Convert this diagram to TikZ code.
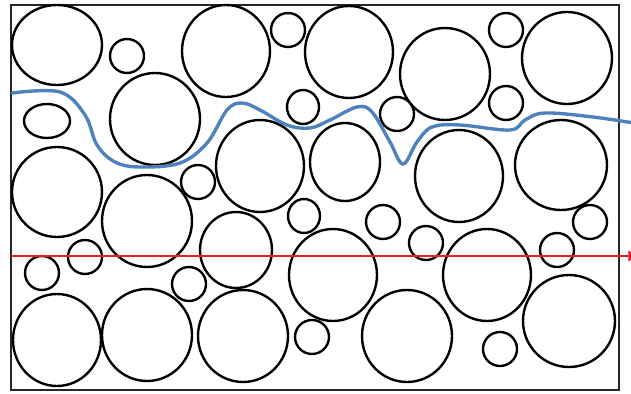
\documentclass[tikz,border=0pt]{standalone}
\usepackage{tikz}
\usetikzlibrary{arrows.meta, positioning}

\definecolor{bluLinea}{RGB}{79,129,189}
\definecolor{rossoLinea}{RGB}{235,30,35}

\tikzset{
  grano/.style={draw=black, line width=1.7pt},
  bordo/.style={draw=black!85, line width=1.6pt},
  percorso/.style={draw=bluLinea, line width=2.4pt, line cap=round},
  asse/.style={draw=rossoLinea, line width=1.3pt, -{Latex[length=9pt,width=8pt]}}
}

\begin{document}
\begin{tikzpicture}[x=0.025cm, y=-0.025cm]
  \useasboundingbox (0,0) rectangle (631,394);

  % Contorno
  \draw[bordo] (11,5) rectangle (619,390);

  % Grani (x/y/raggio x/raggio y)
  \foreach \cx/\cy/\ra/\rb in {
      57/45/45/40, 127/56/17/17, 226/51/44/46, 288/30/17/17,
      349/52/44/46, 445/74/45/46, 506/30/17/17, 567/58/45/46,
      506/103/17/17, 397/114/17/17, 303/107/16/17, 47/121/23/17,
      155/119/45/46, 57/192/45/45, 147/221/45/46, 198/182/17/17,
      260/166/44/46, 345/162/35/39, 459/176/44/46, 561/165/46/45,
      304/216/16/17, 383/222/17/17, 590/222/17/17, 426/243/17/17,
      557/250/17/17, 236/250/36/38, 333/275/44/46, 487/275/44/46,
      85/257/17/17, 42/273/17/17, 189/284/17/17, 57/340/44/46,
      147/335/45/46, 243/336/45/46, 312/337/17/17, 407/336/45/46,
      500/349/17/17, 569/321/46/46}
    \draw[grano] (\cx,\cy) ellipse [x radius=\ra, y radius=\rb];

  % Linea blu
  \draw[percorso] plot[smooth, tension=0.6] coordinates {
      (12,93) (60,92) (85,115) (97,145) (115,162) (140,167) (180,163)
      (207,143) (227,110) (242,103) (260,110) (287,125) (310,128)
      (330,120) (357,107) (372,112) (390,142) (403,164) (417,142)
      (432,127) (460,125) (510,130) (525,120) (545,113) (593,117)
      (640,124)};

  % Linea rossa
  \coordinate (rossoA) at (11,256);
  \coordinate (rossoB) at (641,256);
  \draw[asse] (rossoA) -- (rossoB);
\end{tikzpicture}
\end{document}
